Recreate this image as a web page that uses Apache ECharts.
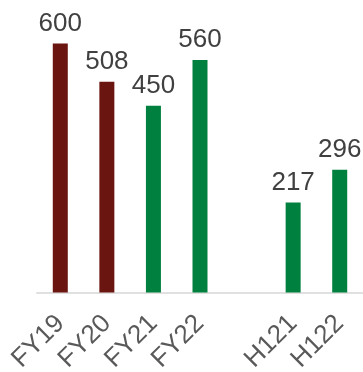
<!DOCTYPE html>
<html>
<head>
<meta charset="utf-8">
<script src="https://cdn.jsdelivr.net/npm/echarts@6/dist/echarts.min.js"></script>
<style>html,body{margin:0;padding:0;background:#fff}#c{width:363px;height:372px}</style>
</head>
<body>
<div id="c"></div>
<script>
var categories = ['FY19', 'FY20', 'FY21', 'FY22', '', 'H121', 'H122'];
var values = [600, 508, 450, 560, null, 217, 296];
var barColors = ['#6b1510', '#6b1510', '#00803f', '#00803f', '#00803f', '#00803f', '#00803f'];

var chart = echarts.init(document.getElementById('c'));
chart.setOption({
  animation: false,
  grid: { left: 37, right: 0, top: 2, bottom: 79.5, outerBoundsMode: 'none', containLabel: false },
  xAxis: {
    type: 'category',
    data: categories,
    axisLine: { lineStyle: { color: '#e0e0e0', width: 2 } },
    axisTick: { show: false },
    axisLabel: {
      interval: 0, rotate: 45, margin: 27,
      fontSize: 26, color: '#595959', fontFamily: 'Liberation Sans, Arial, sans-serif'
    }
  },
  yAxis: { type: 'value', min: 0, max: 700, show: false, splitLine: { show: false } },
  series: [{
    type: 'bar',
    barWidth: 15,
    data: values.map(function (v, i) { return { value: v, itemStyle: { color: barColors[i] } }; }),
    label: {
      show: true, position: 'top', distance: 7,
      fontSize: 26, color: '#404040', fontFamily: 'Liberation Sans, Arial, sans-serif'
    }
  }]
});
</script>
</body>
</html>
